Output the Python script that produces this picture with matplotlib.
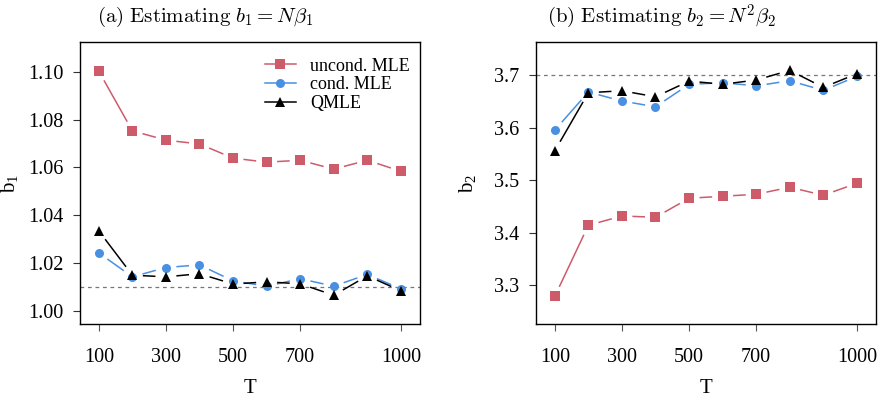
import matplotlib
matplotlib.use("Agg")
import matplotlib.pyplot as plt
from matplotlib.lines import Line2D
import numpy as np

# sample sizes
T = [100, 200, 300, 400, 500, 600, 700, 800, 900, 1000]
xtick_vals = [100, 300, 500, 700, 1000]

# panel (a): estimates of b1, true value 1.01
b1_uncond = [1.1002, 1.0753, 1.0714, 1.0698, 1.0639, 1.0622, 1.0630, 1.0593, 1.0630, 1.0584]
b1_cond = [1.0243, 1.0143, 1.0182, 1.0193, 1.0126, 1.0104, 1.0135, 1.0104, 1.0153, 1.0093]
b1_qmle = [1.0335, 1.0150, 1.0143, 1.0156, 1.0113, 1.0122, 1.0114, 1.0066, 1.0147, 1.0085]
b1_true = 1.01

# panel (b): estimates of b2, true value 3.7
b2_uncond = [3.2784, 3.4139, 3.4317, 3.4292, 3.4655, 3.4693, 3.4731, 3.4865, 3.4712, 3.4941]
b2_cond = [3.5956, 3.6681, 3.6510, 3.6400, 3.6828, 3.6859, 3.6800, 3.6897, 3.6713, 3.6980]
b2_qmle = [3.5560, 3.6668, 3.6706, 3.6590, 3.6890, 3.6830, 3.6910, 3.7095, 3.6770, 3.7030]
b2_true = 3.7

RED = "#cd5b6a"
BLUE = "#4a90e2"
BLACK = "black"
styles = [("uncond. MLE", RED, "s", 6.5), ("cond. MLE", BLUE, "o", 6.5), ("QMLE", BLACK, "^", 7.5)]

plt.rcParams["font.family"] = ["Liberation Serif", "DejaVu Serif"]
plt.rcParams["mathtext.fontset"] = "custom"
plt.rcParams["mathtext.rm"] = "Liberation Serif"
plt.rcParams["mathtext.it"] = "Liberation Serif:italic"

DPI = 100
fig = plt.figure(figsize=(8.83, 4.0), dpi=DPI)
ax1 = fig.add_axes([80 / 883, 76 / 400, 340 / 883, 282 / 400])
ax2 = fig.add_axes([536 / 883, 76 / 400, 340 / 883, 282 / 400])


def gapped_line(ax, x, y, color, gap=10.5):
    # R type="b": line segments stop short of each point
    pts = ax.transData.transform(np.column_stack([x, y]))
    inv = ax.transData.inverted()
    for p, q in zip(pts[:-1], pts[1:]):
        d = q - p
        length = np.hypot(*d)
        if length <= 2 * gap:
            continue
        u = d / length
        seg = inv.transform(np.array([p + u * gap, q - u * gap]))
        ax.plot(seg[:, 0], seg[:, 1], color=color, lw=1.1, solid_capstyle="butt")


panels = [
    (ax1, [b1_uncond, b1_cond, b1_qmle], b1_true, (0.9946, 1.1124),
     [1.00, 1.02, 1.04, 1.06, 1.08, 1.10], "{:.2f}", r"$\mathrm{b}_1$",
     r"$\mathrm{(a)\ Estimating}\ b_1 = N\beta_1$", 205, -0.176),
    (ax2, [b2_uncond, b2_cond, b2_qmle], b2_true, (3.2256, 3.7636),
     [3.3, 3.4, 3.5, 3.6, 3.7], "{:.1f}", r"$\mathrm{b}_2$",
     r"$\mathrm{(b)\ Estimating}\ b_2 = N^2\beta_2$", 661, -0.17),
]

for ax, series, true_val, ylim, yticks, fmt, ylab, title, tx, ylx in panels:
    ax.set_xlim(44, 1057)
    ax.set_ylim(*ylim)
    ax.axhline(true_val, color="#777777", lw=0.9, linestyle=(0, (3, 3)))
    for vals, (name, color, marker, ms) in zip(series, styles):
        gapped_line(ax, T, vals, color)
        ax.plot(T, vals, linestyle="none", marker=marker, color=color, ms=ms,
                markeredgewidth=0)
    ax.set_xticks(xtick_vals)
    ax.set_xticklabels([str(v) for v in xtick_vals])
    ax.set_yticks(yticks)
    ax.set_yticklabels([fmt.format(v) for v in yticks])
    ax.tick_params(axis="x", length=5, width=0.8, color="#555555", pad=12, labelsize=14.5)
    ax.tick_params(axis="y", length=5, width=0.8, color="#333333", pad=7, labelsize=14.5)
    for sp in ax.spines.values():
        sp.set_linewidth(1.0)
    ax.set_xlabel("T", fontsize=15)
    ax.xaxis.set_label_coords(0.5, -0.195)
    ax.set_ylabel(ylab, fontsize=15)
    ax.yaxis.set_label_coords(ylx, 0.5)
    fig.text(tx / 883, 1 - 17 / 400, title, ha="center", va="center",
             fontsize=15, math_fontfamily="cm")

handles = [Line2D([], [], color=c, marker=m, ms=ms, lw=1.1, markeredgewidth=0)
           for _, c, m, ms in styles]
ax1.legend(handles, [s[0] for s in styles], loc="upper left",
           bbox_to_anchor=(0.544, 0.945), frameon=False, borderpad=0,
           borderaxespad=0, handlelength=1.7, handletextpad=0.8,
           labelspacing=0.1, fontsize=13)

fig.savefig("out.png", dpi=DPI)
